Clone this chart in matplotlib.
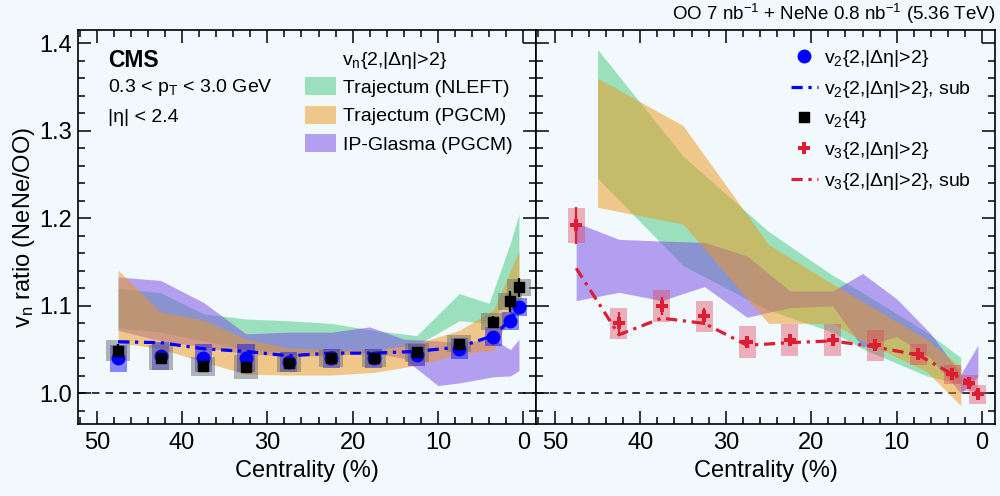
import numpy as np
import matplotlib
matplotlib.use("Agg")
import matplotlib.pyplot as plt
from matplotlib.patches import Patch
from matplotlib.lines import Line2D
from matplotlib.ticker import MultipleLocator, FormatStrFormatter

plt.rcParams['font.family'] = ['Liberation Sans', 'DejaVu Sans']
plt.rcParams['mathtext.fontset'] = 'custom'
plt.rcParams['mathtext.rm'] = 'Liberation Sans'
plt.rcParams['mathtext.it'] = 'Liberation Sans:italic'
plt.rcParams['mathtext.bf'] = 'Liberation Sans:bold'

# data points (centrality bins)
cent = [47.5, 42.5, 37.5, 32.5, 27.5, 22.5, 17.5, 12.5, 7.5, 3.5, 1.5, 0.5]

v2_2 = [1.040, 1.043, 1.040, 1.040, 1.036, 1.040, 1.040, 1.044, 1.051, 1.065, 1.083, 1.099]
v2_2_sys = [0.015, 0.016, 0.016, 0.016, 0.011, 0.011, 0.011, 0.013, 0.012, 0.011, 0.010, 0.010]
v2_2_sub = [1.059, 1.058, 1.051, 1.048, 1.043, 1.046, 1.046, 1.048, 1.053, 1.066, 1.084, 1.099]

v2_4 = [1.049, 1.041, 1.031, 1.030, 1.035, 1.040, 1.040, 1.047, 1.057, 1.082, 1.105, 1.121]
v2_4_stat = [0.007, 0.003, 0.003, 0.003, 0.003, 0.003, 0.003, 0.003, 0.004, 0.006, 0.012, 0.011]
v2_4_sys = [0.012, 0.014, 0.011, 0.014, 0.010, 0.010, 0.010, 0.011, 0.010, 0.010, 0.010, 0.010]

v3_2 = [1.192, 1.080, 1.100, 1.088, 1.059, 1.061, 1.061, 1.055, 1.045, 1.022, 1.012, 0.999]
v3_2_stat = [0.021, 0.013, 0.010, 0.010, 0.006, 0.006, 0.006, 0.006, 0.005, 0.005, 0.005, 0.005]
v3_2_sys = [0.020, 0.018, 0.018, 0.018, 0.018, 0.018, 0.018, 0.018, 0.012, 0.011, 0.009, 0.011]
v3_2_sub = [1.143, 1.067, 1.086, 1.080, 1.055, 1.058, 1.060, 1.053, 1.044, 1.022, 1.013, 0.999]

# model bands, v2 (left)
nleft_v2_c = [47.5, 42.5, 37.5, 32.5, 27.5, 22.5, 17.5, 12.5, 7.5, 4.0, 1.5, 0.5]
nleft_v2_hi = [1.120, 1.115, 1.091, 1.085, 1.083, 1.080, 1.072, 1.066, 1.114, 1.103, 1.172, 1.205]
nleft_v2_lo = [1.075, 1.070, 1.060, 1.050, 1.047, 1.047, 1.050, 1.055, 1.083, 1.080, 1.110, 1.130]

pgcm_v2_c = [47.5, 42.5, 37.5, 32.5, 27.5, 22.5, 17.5, 12.5, 7.5, 3.5, 1.5, 0.5]
pgcm_v2_hi = [1.141, 1.093, 1.084, 1.062, 1.052, 1.050, 1.050, 1.057, 1.072, 1.095, 1.140, 1.163]
pgcm_v2_lo = [1.058, 1.051, 1.036, 1.022, 1.021, 1.021, 1.024, 1.032, 1.045, 1.049, 1.090, 1.110]

ipg_v2_c = [47.5, 42.5, 37.5, 32.5, 27.5, 22.5, 18.0, 14.0, 10.0, 7.5, 3.5, 1.5, 0.5]
ipg_v2_hi = [1.133, 1.129, 1.104, 1.068, 1.070, 1.070, 1.076, 1.062, 1.060, 1.058, 1.062, 1.050, 1.062]
ipg_v2_lo = [1.072, 1.060, 1.053, 1.045, 1.043, 1.043, 1.047, 1.040, 1.009, 1.012, 1.019, 1.020, 1.026]

# model bands, v3 (right)
nleft_v3_c = [45.0, 35.0, 25.0, 17.5, 14.0, 6.5, 2.5]
nleft_v3_hi = [1.393, 1.271, 1.185, 1.135, 1.115, 1.070, 1.041]
nleft_v3_lo = [1.246, 1.146, 1.095, 1.070, 1.051, 1.020, 1.011]

pgcm_v3_c = [45.0, 35.0, 25.0, 17.5, 14.0, 6.5, 2.5]
pgcm_v3_hi = [1.360, 1.306, 1.170, 1.125, 1.105, 1.062, 1.030]
pgcm_v3_lo = [1.2125, 1.1935, 1.080, 1.080, 1.060, 1.025, 0.986]

ipg_v3_c = [47.5, 42.5, 37.5, 32.5, 27.5, 22.5, 17.5, 14.0, 10.0, 6.0, 2.5, 0.5]
ipg_v3_hi = [1.195, 1.176, 1.174, 1.1725, 1.157, 1.117, 1.117, 1.137, 1.108, 1.068, 1.022, 1.055]
ipg_v3_lo = [1.106, 1.1155, 1.106, 1.122, 1.087, 1.098, 1.100, 1.053, 1.065, 1.040, 1.000, 1.019]

bg = '#f1f9fd'
c_green = '#45c97f'
c_orange = '#ef971b'
c_purple = '#7747e3'
c_red = '#dc1e32'
dashdot = (0, (3.5, 1.8, 1, 1.8))

fig = plt.figure(figsize=(10, 4.96), dpi=100, facecolor=bg)
axL = fig.add_axes([0.078, 0.145, 0.458, 0.7944])
axR = fig.add_axes([0.536, 0.145, 0.459, 0.7944])

for ax in (axL, axR):
    ax.set_facecolor(bg)
    ax.set_xlim(52.2, -1.5)
    ax.set_ylim(0.965, 1.415)
    ax.axhline(1.0, color='black', lw=1.1, ls=(0, (5, 4)), zorder=1)
    ax.xaxis.set_major_locator(MultipleLocator(10))
    ax.xaxis.set_minor_locator(MultipleLocator(2))
    ax.yaxis.set_major_locator(MultipleLocator(0.1))
    ax.yaxis.set_minor_locator(MultipleLocator(0.02))
    ax.tick_params(which='both', direction='in', top=True, right=True, width=1.1)
    ax.tick_params(which='major', length=9.5)
    ax.tick_params(which='minor', length=5)
    ax.tick_params(axis='x', labelsize=17, pad=6)
    ax.tick_params(axis='y', labelsize=17, pad=4)
    for s in ax.spines.values():
        s.set_linewidth(1.2)
    ax.set_xlabel('Centrality (%)', fontsize=17)
    ax.xaxis.set_label_coords(0.5, -0.092)

axL.yaxis.set_major_formatter(FormatStrFormatter('%.1f'))
axR.tick_params(axis='y', labelleft=False)
axL.set_ylabel(r'v$_\mathrm{n}$ ratio (NeNe/OO)', fontsize=17)
axL.yaxis.set_label_coords(-0.09, 0.5)

# left panel: v2
axL.fill_between(nleft_v2_c, nleft_v2_lo, nleft_v2_hi, color=c_green, alpha=0.5, lw=0, zorder=2)
axL.fill_between(ipg_v2_c, ipg_v2_lo, ipg_v2_hi, color=c_purple, alpha=0.5, lw=0, zorder=2)
axL.fill_between(pgcm_v2_c, pgcm_v2_lo, pgcm_v2_hi, color=c_orange, alpha=0.5, lw=0, zorder=2)

v2_2 = np.array(v2_2)
v2_4 = np.array(v2_4)
v3_2 = np.array(v3_2)
axL.bar(cent, 2 * np.array(v2_2_sys), bottom=v2_2 - v2_2_sys, width=2.0,
        color='blue', alpha=0.45, lw=0, zorder=3)
axL.bar(cent, 2 * np.array(v2_4_sys), bottom=v2_4 - v2_4_sys, width=2.8,
        color='#6e6e6e', alpha=0.5, lw=0, zorder=3)
axL.plot(cent, v2_2_sub, color='blue', lw=2.3, ls=dashdot, zorder=4)
axL.plot(cent, v2_2, 'o', color='blue', ms=9, zorder=5)
axL.errorbar(cent, v2_4, yerr=v2_4_stat, fmt='s', color='black', ms=7.5,
             elinewidth=1.6, capsize=0, zorder=6)

axL.text(0.065, 0.924, 'CMS', transform=axL.transAxes, fontsize=16.5,
         fontweight='bold', va='center', ha='left')
axL.text(0.065, 0.853, r'0.3 < p$_\mathrm{T}$ < 3.0 GeV', transform=axL.transAxes,
         fontsize=14, va='center', ha='left')
axL.text(0.065, 0.779, '|η| < 2.4', transform=axL.transAxes,
         fontsize=14, va='center', ha='left')
axL.text(0.577, 0.924, r'v$_\mathrm{n}${2,|Δη|>2}', transform=axL.transAxes,
         fontsize=14, va='center', ha='left')

band_handles = [Patch(facecolor=c_green, alpha=0.5, lw=0, label='Trajectum (NLEFT)'),
                Patch(facecolor=c_orange, alpha=0.5, lw=0, label='Trajectum (PGCM)'),
                Patch(facecolor=c_purple, alpha=0.5, lw=0, label='IP-Glasma (PGCM)')]
axL.legend(handles=band_handles, loc='upper left', bbox_to_anchor=(0.4956, 0.88),
           frameon=False, fontsize=14, handlelength=1.6, handleheight=1.05,
           handletextpad=0.35, labelspacing=0.45, borderpad=0, borderaxespad=0)

# right panel: v3
axR.fill_between(nleft_v3_c, nleft_v3_lo, nleft_v3_hi, color=c_green, alpha=0.5, lw=0, zorder=2)
axR.fill_between(ipg_v3_c, ipg_v3_lo, ipg_v3_hi, color=c_purple, alpha=0.5, lw=0, zorder=2)
axR.fill_between(pgcm_v3_c, pgcm_v3_lo, pgcm_v3_hi, color=c_orange, alpha=0.5, lw=0, zorder=2)

axR.bar(cent, 2 * np.array(v3_2_sys), bottom=v3_2 - v3_2_sys, width=2.0,
        color='#e0405a', alpha=0.4, lw=0, zorder=3)
axR.plot(cent, v3_2_sub, color=c_red, lw=2.3, ls=dashdot, zorder=4)
axR.errorbar(cent, v3_2, yerr=v3_2_stat, fmt='P', color=c_red, ms=9, mew=0,
             elinewidth=1.6, capsize=0, zorder=5)

pt_handles = [Line2D([], [], marker='o', color='blue', ls='none', ms=9),
              Line2D([], [], color='blue', lw=2.3, ls=dashdot),
              Line2D([], [], marker='s', color='black', ls='none', ms=7.5),
              Line2D([], [], marker='P', color=c_red, ls='none', ms=9, mew=0),
              Line2D([], [], color=c_red, lw=2.3, ls=dashdot)]
pt_labels = [r'v$_2${2,|Δη|>2}', r'v$_2${2,|Δη|>2}, sub', r'v$_2${4}',
             r'v$_3${2,|Δη|>2}', r'v$_3${2,|Δη|>2}, sub']
axR.legend(pt_handles, pt_labels, loc='upper left', bbox_to_anchor=(0.555, 0.955),
           frameon=False, fontsize=14, handlelength=1.4, handletextpad=0.3,
           labelspacing=0.5, borderpad=0, borderaxespad=0)

fig.text(0.995, 0.972, r'OO 7 nb$^{-1}$ + NeNe 0.8 nb$^{-1}$ (5.36 TeV)',
         fontsize=13.5, ha='right', va='center')

fig.savefig('out.png', dpi=100, facecolor=bg)
